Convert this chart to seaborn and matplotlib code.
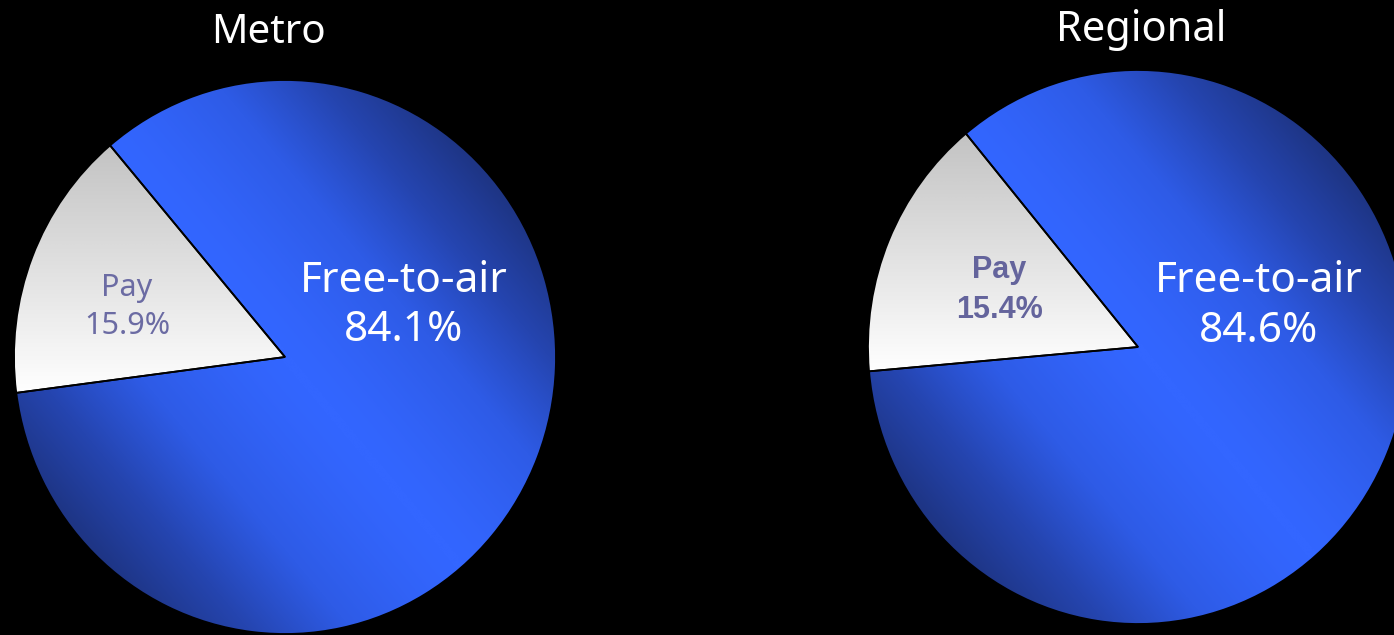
import numpy as np
import matplotlib
matplotlib.use("Agg")
import matplotlib.pyplot as plt
import seaborn as sns

# Audience share by market
markets = ["Metro", "Regional"]
segments = ["Pay", "Free-to-air"]
metro_share = [15.9, 84.1]
regional_share = [15.4, 84.6]
shares = [metro_share, regional_share]
pay_start_angle = [130.2, 129.6]

W, H = 1394, 635

sns.set_theme(style="dark", rc={
    "figure.facecolor": "black",
    "axes.facecolor": "none",
    "savefig.facecolor": "black",
})
plt.rcParams["font.family"] = ["Noto Sans", "DejaVu Sans"]

blue_cmap = sns.blend_palette(["#3366FF", "#2E5BE6", "#2545B0", "#1E3585"], as_cmap=True)
grey_cmap = sns.blend_palette(["#FFFFFF", "#C3C3C3"], as_cmap=True)

# pie bounding boxes in pixels: left, top, width, height
boxes = [(14, 80, 542, 554), (868, 70, 540, 554)]

fig = plt.figure(figsize=(W / 100, H / 100), dpi=100)

n = 700
grid = np.linspace(-1, 1, n)
X, Y = np.meshgrid(grid, grid)
band = np.deg2rad(50)

for name, vals, start, (l, t, w, h) in zip(markets, shares, pay_start_angle, boxes):
    ax = fig.add_axes([l / W, 1 - (t + h) / H, w / W, h / H])
    wedges, _ = ax.pie(vals, startangle=start, counterclock=True, radius=1,
                       wedgeprops=dict(edgecolor="black", linewidth=1.3))
    pay, fta = wedges

    # blue shading: lightest along a diagonal band, darker toward the rim
    rx, ry = w / 2, h / 2
    d = (X * rx * np.sin(band) + Y * ry * np.cos(band)) / rx
    tb = np.clip(np.abs(d), 0, 1) ** 1.4
    im_b = ax.imshow(tb, cmap=blue_cmap, vmin=0, vmax=1, extent=(-1, 1, -1, 1),
                     origin="lower", aspect="auto", zorder=0.5, interpolation="bilinear")
    im_b.set_clip_path(fta)
    fta.set_facecolor("none")

    # grey shading: darker at the top of the slice, white at the bottom
    y_hi = np.sin(np.deg2rad(pay.theta1))
    y_lo = np.sin(np.deg2rad(pay.theta2))
    tg = np.clip((Y - y_lo) / (y_hi - y_lo), 0, 1)
    im_g = ax.imshow(tg, cmap=grey_cmap, vmin=0, vmax=1, extent=(-1, 1, -1, 1),
                     origin="lower", aspect="auto", zorder=0.5, interpolation="bilinear")
    im_g.set_clip_path(pay)
    pay.set_facecolor("none")

    ax.set_aspect("auto")
    ax.set_xlim(-1, 1)
    ax.set_ylim(-1, 1)
    ax.axis("off")


def put(px, py, s, **kw):
    fig.text(px / W, 1 - py / H, s, ha="center", va="baseline", **kw)


# titles
put(268, 43, markets[0], color="white", fontsize=29)
put(1141, 41, markets[1], color="white", fontsize=30)

# Metro labels
put(404, 292, segments[1], color="white", fontsize=30.5)
put(404, 341, f"{metro_share[1]:.1f}%", color="white", fontsize=30.5)
put(127, 296, segments[0], color="#6B6BA3", fontsize=22)
put(127, 334, f"{metro_share[0]:.1f}%", color="#6B6BA3", fontsize=22)

# Regional labels
put(1259, 292, segments[1], color="white", fontsize=30.5)
put(1259, 342, f"{regional_share[1]:.1f}%", color="white", fontsize=30.5)
put(999, 278, segments[0], color="#64649C", fontsize=22,
    family=["Liberation Sans", "DejaVu Sans"], fontweight="bold")
put(999, 318, f"{regional_share[0]:.1f}%", color="#64649C", fontsize=22,
    family=["Liberation Sans", "DejaVu Sans"], fontweight="bold")

fig.savefig("out.png", dpi=100, facecolor="black")
